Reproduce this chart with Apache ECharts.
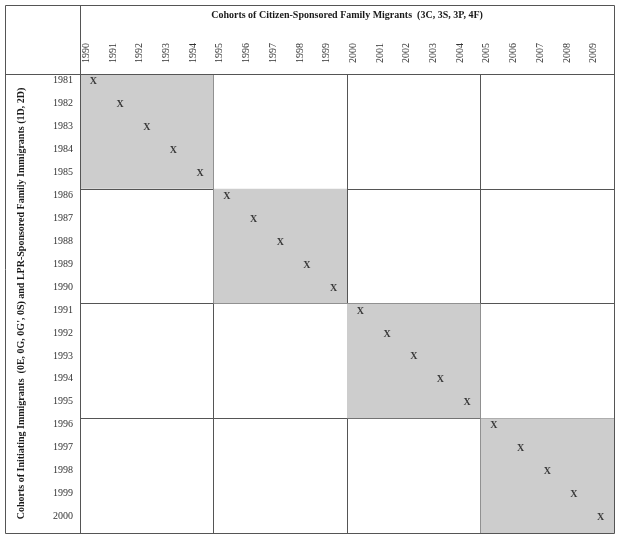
<!DOCTYPE html>
<html><head><meta charset="utf-8">
<script src="https://cdn.jsdelivr.net/npm/echarts@6/dist/echarts.min.js"></script>
<style>html,body{margin:0;padding:0;background:#fff}#c{width:620px;height:539px}</style>
</head><body><div id="c"></div>
<script>
// Column categories (cohorts of citizen-sponsored family migrants)
var colYears = ['1990','1991','1992','1993','1994','1995','1996','1997','1998','1999',
                '2000','2001','2002','2003','2004','2005','2006','2007','2008','2009'];
// Row categories (cohorts of initiating immigrants)
var rowYears = ['1981','1982','1983','1984','1985','1986','1987','1988','1989','1990',
                '1991','1992','1993','1994','1995','1996','1997','1998','1999','2000'];
// X marks: [column year, row year]
var marks = [
  ['1990','1981'],['1991','1982'],['1992','1983'],['1993','1984'],['1994','1985'],
  ['1995','1986'],['1996','1987'],['1997','1988'],['1998','1989'],['1999','1990'],
  ['2000','1991'],['2001','1992'],['2002','1993'],['2003','1994'],['2004','1995'],
  ['2005','1996'],['2006','1997'],['2007','1998'],['2008','1999'],['2009','2000']
];
// Shaded blocks: [col start, col end, row start, row end]
var blocks = [
  ['1990','1994','1981','1985'],
  ['1995','1999','1986','1990'],
  ['2000','2004','1991','1995'],
  ['2005','2009','1996','2000']
];
var xTitle = 'Cohorts of Citizen-Sponsored Family Migrants  (3C, 3S, 3P, 4F)';
var yTitle = "Cohorts of Initiating Immigrants  (0E, 0G, 0G', 0S) and LPR-Sponsored Family Immigrants (1D, 2D)";

var FONT = 'Liberation Serif';
var LINE = '#555555';
var chart = echarts.init(document.getElementById('c'));
chart.setOption({
  animation: false,
  backgroundColor: '#ffffff',
  grid: {left: 80, top: 74, right: 6, bottom: 6, outerBoundsMode: 'none', containLabel: false},
  xAxis: {
    type: 'category', position: 'top', data: colYears, boundaryGap: true,
    name: xTitle, nameLocation: 'middle', nameGap: 54,
    nameTextStyle: {fontFamily: FONT, fontWeight: 'bold', fontSize: 10, color: '#1a1a1a'},
    axisLine: {show: false}, axisTick: {show: false},
    axisLabel: {rotate: -90, fontFamily: FONT, fontSize: 10, color: '#333', margin: 11,
      verticalAlign: 'bottom', lineHeight: 14, interval: 0, hideOverlap: false},
    splitLine: {show: true, interval: function (i) { return i % 5 === 0; },
      lineStyle: {color: LINE, width: 1}}
  },
  yAxis: {
    type: 'category', inverse: true, data: rowYears, boundaryGap: true,
    name: yTitle, nameLocation: 'middle', nameGap: 54, nameRotate: 90,
    nameTextStyle: {fontFamily: FONT, fontWeight: 'bold', fontSize: 10, color: '#1a1a1a'},
    axisLine: {show: false}, axisTick: {show: false},
    axisLabel: {fontFamily: FONT, fontSize: 10, color: '#333', margin: 7,
      verticalAlign: 'bottom', lineHeight: 10, interval: 0, hideOverlap: false},
    splitLine: {show: true, interval: function (i) { return i % 5 === 0; },
      lineStyle: {color: LINE, width: 1}}
  },
  series: [
    {
      type: 'custom', z: 1, silent: true,
      data: blocks,
      encode: {x: [0, 1], y: [2, 3]},
      renderItem: function (params, api) {
        var p0 = api.coord([api.value(0), api.value(2)]);
        var p1 = api.coord([api.value(1), api.value(3)]);
        var s = api.size([1, 1]);
        var x0 = p0[0] - s[0] / 2, x1 = p1[0] + s[0] / 2;
        var y0 = p0[1] - s[1] / 2, y1 = p1[1] + s[1] / 2;
        return {type: 'rect', shape: {x: x0, y: y0, width: x1 - x0, height: y1 - y0},
          style: {fill: '#cdcdcd'}};
      }
    },
    {
      type: 'scatter', z: 3, silent: true,
      data: marks,
      symbolSize: 1,
      itemStyle: {color: 'rgba(0,0,0,0)'},
      label: {show: true, position: 'inside', formatter: 'X', offset: [0, -4],
        fontFamily: FONT, fontWeight: 'bold', fontSize: 10, color: '#111'}
    }
  ],
  graphic: [
    {type: 'rect', shape: {x: 5.5, y: 5.5, width: 609, height: 528}, z: 10,
      style: {fill: null, stroke: LINE, lineWidth: 1}},
    {type: 'line', shape: {x1: 80.5, y1: 5, x2: 80.5, y2: 534}, z: 10,
      style: {stroke: LINE, lineWidth: 1}},
    {type: 'line', shape: {x1: 5, y1: 74.5, x2: 615, y2: 74.5}, z: 10,
      style: {stroke: LINE, lineWidth: 1}}
  ]
});
</script></body></html>
